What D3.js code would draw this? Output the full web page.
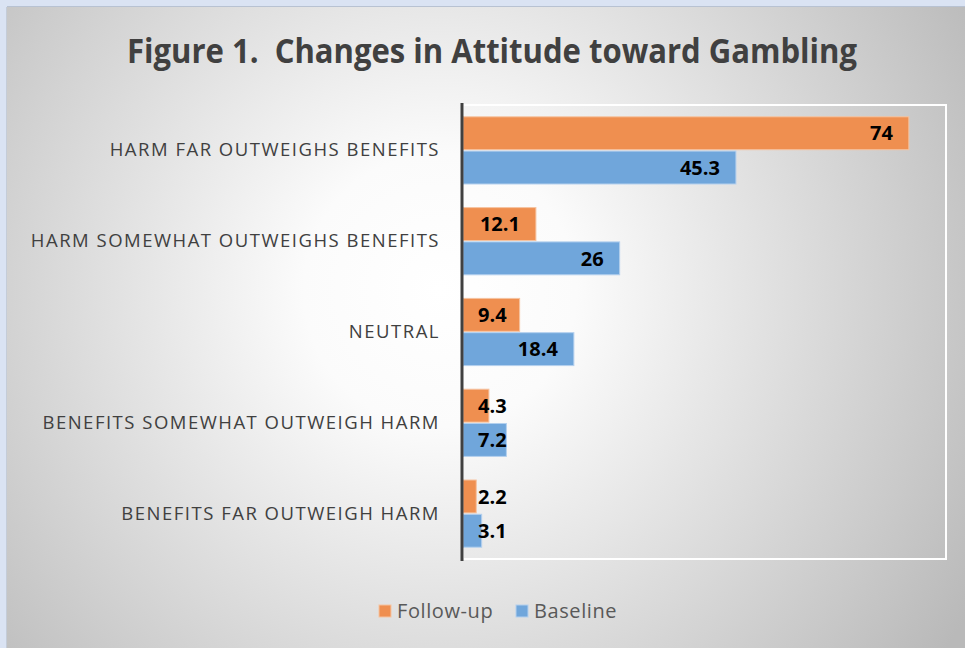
<!DOCTYPE html>
<html>
<head>
<meta charset="utf-8">
<script src="https://cdn.jsdelivr.net/npm/d3@7"></script>
<style>
  body { margin: 0; background: #dae3f3; }
  svg { display: block; }
  text { font-family: "Open Sans", "Noto Sans", sans-serif; white-space: pre; }
</style>
</head>
<body>
<div id="chart"></div>
<script>
var categories = [
    'HARM FAR OUTWEIGHS BENEFITS',
    'HARM SOMEWHAT OUTWEIGHS BENEFITS',
    'NEUTRAL',
    'BENEFITS SOMEWHAT OUTWEIGH HARM',
    'BENEFITS FAR OUTWEIGH HARM'
];
var seriesNames = ['Follow-up', 'Baseline'];
var followUp = [74, 12.1, 9.4, 4.3, 2.2];
var baseline = [45.3, 26, 18.4, 7.2, 3.1];
var seriesColors = ['#ef8f50', '#70a6db'];
var seriesStroke = ['#f6c3a0', '#b4d0ee'];

var width = 965;
var height = 648;

var svg = d3.select('#chart')
    .append('svg')
    .attr('width', width)
    .attr('height', height);

var defs = svg.append('defs');
var grad = defs.append('radialGradient')
    .attr('id', 'bg')
    .attr('gradientUnits', 'userSpaceOnUse')
    .attr('cx', 440).attr('cy', 290).attr('r', 620);
grad.append('stop').attr('offset', '0').attr('stop-color', '#ffffff');
grad.append('stop').attr('offset', '0.22').attr('stop-color', '#fbfbfb');
grad.append('stop').attr('offset', '1').attr('stop-color', '#b9b9b9');

svg.append('rect')
    .attr('x', 7).attr('y', 7)
    .attr('width', width - 7).attr('height', height - 7)
    .attr('fill', 'url(#bg)');
svg.append('line')
    .attr('x1', 7).attr('x2', width).attr('y1', 6.5).attr('y2', 6.5)
    .attr('stroke', '#b8c2d2').attr('stroke-width', 1);
svg.append('line')
    .attr('x1', 6.5).attr('x2', 6.5).attr('y1', 7).attr('y2', height)
    .attr('stroke', '#c4ccd8').attr('stroke-width', 1);

// title
svg.append('text')
    .attr('x', 492)
    .attr('y', 63)
    .attr('text-anchor', 'middle')
    .attr('font-size', 34)
    .attr('font-weight', 'bold')
    .attr('fill', '#404040')
    .attr('textLength', 730)
    .attr('lengthAdjust', 'spacingAndGlyphs')
    .text('Figure 1.  Changes in Attitude toward Gambling');

var plot = { left: 463, right: 946, top: 105, bottom: 559 };

var x = d3.scaleLinear()
    .domain([0, 80])
    .range([plot.left, plot.right - 1]);

var y = d3.scaleBand()
    .domain(categories)
    .range([plot.top, plot.bottom])
    .paddingInner(0.26)
    .paddingOuter(0.13);

var ySub = d3.scaleBand()
    .domain(seriesNames)
    .range([0, y.bandwidth()])
    .paddingInner(0.04);

// plot area border
svg.append('rect')
    .attr('x', plot.left)
    .attr('y', plot.top)
    .attr('width', plot.right - plot.left)
    .attr('height', plot.bottom - plot.top)
    .attr('fill', 'none')
    .attr('stroke', '#ffffff')
    .attr('stroke-width', 2);

var rows = categories.map(function (c, i) {
    return { cat: c, values: [followUp[i], baseline[i]] };
});

var groups = svg.selectAll('.group')
    .data(rows)
    .enter()
    .append('g')
    .attr('class', 'group')
    .attr('transform', function (d) {
        return 'translate(0,' + y(d.cat) + ')';
    });

var bars = groups.selectAll('.bar')
    .data(function (d) {
        return d.values.map(function (v, j) {
            return { name: seriesNames[j], value: v, j: j };
        });
    })
    .enter();

bars.append('rect')
    .attr('x', x(0))
    .attr('y', function (d) { return ySub(d.name); })
    .attr('width', function (d) { return x(d.value) - x(0); })
    .attr('height', ySub.bandwidth())
    .attr('fill', function (d) { return seriesColors[d.j]; })
    .attr('stroke', function (d) { return seriesStroke[d.j]; })
    .attr('stroke-width', 1);

bars.append('text')
    .attr('y', function (d) { return ySub(d.name) + ySub.bandwidth() / 2; })
    .attr('dy', '0.36em')
    .attr('font-size', 20)
    .attr('font-weight', 'bold')
    .attr('fill', '#000000')
    .text(function (d) { return d.value; })
    .attr('x', function (d) {
        var w = this.getComputedTextLength();
        return Math.max(x(d.value) - 16 - w, x(0) + 15);
    });

// category axis
var yAxis = svg.append('g')
    .attr('transform', 'translate(' + (plot.left - 1) + ',0)')
    .call(d3.axisLeft(y).tickSize(0).tickPadding(22));
yAxis.select('.domain')
    .attr('d', 'M0,' + (plot.top - 2) + 'V' + (plot.bottom + 2))
    .attr('stroke', '#404040')
    .attr('stroke-width', 3);
yAxis.selectAll('text')
    .attr('font-family', '"Open Sans", "Noto Sans", sans-serif')
    .attr('font-size', 18.5)
    .attr('letter-spacing', 1.5)
    .attr('fill', '#404040');

// legend
var legendItems = [
    { name: seriesNames[0], x: 379, color: seriesColors[0], stroke: seriesStroke[0] },
    { name: seriesNames[1], x: 516, color: seriesColors[1], stroke: seriesStroke[1] }
];
var legend = svg.selectAll('.legend')
    .data(legendItems)
    .enter()
    .append('g')
    .attr('class', 'legend')
    .attr('transform', function (d) { return 'translate(' + d.x + ',611)'; });

legend.append('rect')
    .attr('x', 0).attr('y', -6)
    .attr('width', 12).attr('height', 12)
    .attr('fill', function (d) { return d.color; })
    .attr('stroke', function (d) { return d.stroke; });

legend.append('text')
    .attr('x', 18)
    .attr('dy', '0.36em')
    .attr('font-size', 20)
    .attr('letter-spacing', 0.6)
    .attr('fill', '#595959')
    .text(function (d) { return d.name; });
</script>
</body>
</html>
